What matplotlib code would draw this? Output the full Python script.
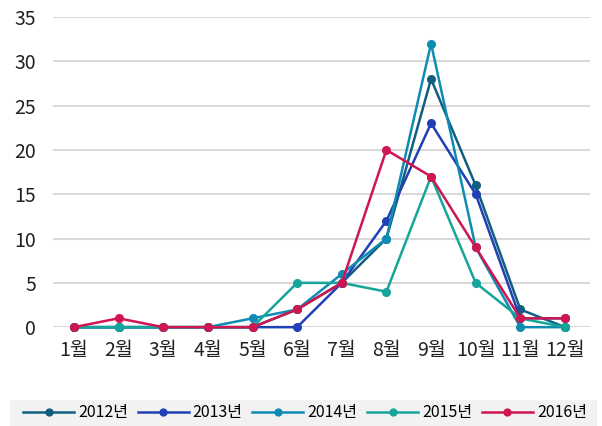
import numpy as np
import matplotlib.pyplot as plt
from matplotlib.patches import Rectangle

# DATA

months = ['1월', '2월', '3월', '4월', '5월', '6월', '7월', '8월', '9월', '10월', '11월', '12월']
years = ['2012년', '2013년', '2014년', '2015년', '2016년']
y2012 = [0, 0, 0, 0, 0, 2, 5, 10, 28, 16, 2, 0]
y2013 = [0, 0, 0, 0, 0, 0, 5, 12, 23, 15, 1, 1]
y2014 = [0, 0, 0, 0, 1, 2, 6, 10, 32, 9, 0, 0]
y2015 = [0, 0, 0, 0, 0, 5, 5, 4, 17, 5, 1, 0]
y2016 = [0, 1, 0, 0, 0, 2, 5, 20, 17, 9, 1, 1]
colors = ['#125e80', '#2140b4', '#0f8bb3', '#15a59a', '#cf1650']

plt.rcParams['font.family'] = ['Noto Sans CJK KR', 'DejaVu Sans']

# FIGURE

fig = plt.figure(figsize=(6.02, 4.26), dpi=100)
ax = fig.add_axes([0.088, 0.232, 0.892, 0.728])

x = np.arange(1, 13)
for vals, c, lab in zip([y2012, y2013, y2014, y2015, y2016], colors, years):
    ax.plot(x, vals, '-o', color=c, lw=1.8, ms=5.5, label=lab, clip_on=False, zorder=3)

ax.set_xlim(0.53, 12.56)
ax.set_ylim(0, 35)
ax.set_yticks(range(0, 36, 5))
ax.set_xticks(x)
ax.set_xticklabels(months)
ax.grid(axis='y', color='#d9d9d9', lw=1.5)
ax.set_axisbelow(True)
for s in ax.spines.values():
    s.set_visible(False)
ax.tick_params(length=0, labelsize=14, colors='#222222')
ax.tick_params(axis='x', pad=9)
ax.tick_params(axis='y', pad=12)

# LEGEND

fig.patches.append(Rectangle((10 / 602, 0), 587 / 602, 26 / 426, transform=fig.transFigure,
                             facecolor='#f2f2f2', edgecolor='none', zorder=0))
fig.legend(loc='center', bbox_to_anchor=(305 / 602, 13 / 426), ncol=5, frameon=False,
           fontsize=11.5, handlelength=3.2, columnspacing=0.6, handletextpad=0.25,
           markerscale=0.9)

fig.savefig('out.png', dpi=100)
